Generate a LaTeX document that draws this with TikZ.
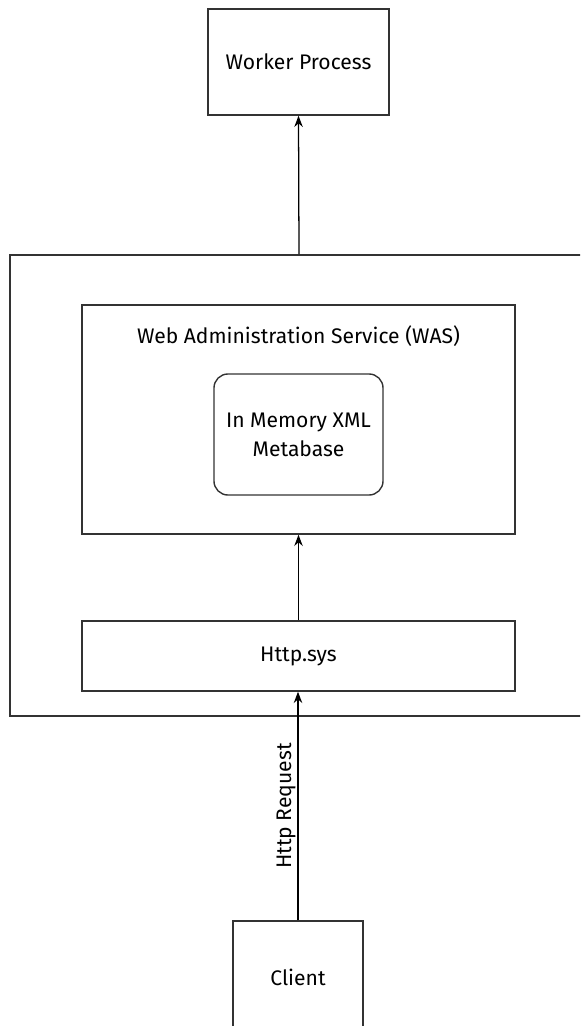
\documentclass[tikz,border=0pt]{standalone}
\usepackage{fontspec}
\setmainfont{Fira Sans}
\usetikzlibrary{arrows.meta}

\begin{document}
\begin{tikzpicture}[x=0.025cm,y=-0.025cm,font=\fontsize{15}{18}\selectfont,>={Stealth[length=8pt,width=6pt]},
  box/.style={draw=black!80,line width=1pt,inner sep=0pt,align=center},
  link/.style={->,line width=0.9pt}]
  \useasboundingbox (0,0) rectangle (580,1026);
  \clip (0,0) rectangle (580,1026);
  \node[box,minimum width=14.45cm,minimum height=11.525cm] (host) at (299,485.5) {};
  \node[box,minimum width=4.525cm,minimum height=2.65cm] (worker) at (298.5,62) {Worker Process};
  \node[box,minimum width=10.825cm,minimum height=5.725cm] (was) at (298.5,419.5) {};
  \node (wastitle) at (298.5,336) {Web Administration Service (WAS)};
  \node[box,rounded corners=0.35cm,minimum width=4.225cm,minimum height=3.025cm,
    font=\fontsize{15}{20.5}\selectfont] (meta) at (298.5,434.5) {In Memory XML\\Metabase};
  \node[box,minimum width=10.825cm,minimum height=1.75cm] (http) at (298.5,656) {Http.sys};
  \node[box,minimum width=3.25cm,minimum height=2.8cm] (client) at (298,977) {Client};
  \draw[link] (host.north) -- (worker.south);
  \draw[link] (http.north) -- (http.north |- was.south);
  \draw[link] (client.north) -- node[midway,sloped,above,yshift=-2pt] {Http Request} (client.north |- http.south);
\end{tikzpicture}
\end{document}
